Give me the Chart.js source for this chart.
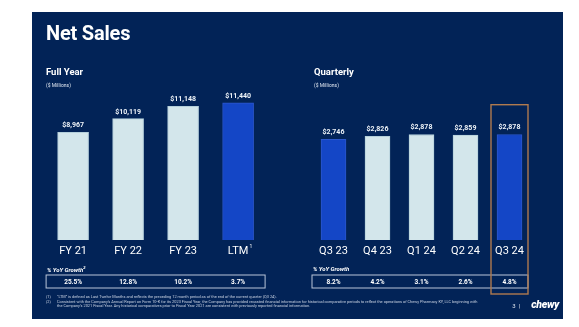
<!DOCTYPE html>
<html>
<head>
<meta charset="utf-8">
<script src="https://cdn.jsdelivr.net/npm/chart.js@4.4.0/dist/chart.umd.min.js"></script>
<style>
  html, body { margin: 0; padding: 0; background: #fff; }
  body { width: 579px; height: 327px; position: relative; overflow: hidden; font-family: Roboto, Arial, sans-serif; }
  #slide { position: absolute; left: 32px; top: 12px; width: 531px; height: 307px; background: #022357; overflow: hidden; }
  #slide canvas { position: absolute; left: 0; top: 0; }
  .t { position: absolute; color: #fff; white-space: nowrap; line-height: 1; }
  .title { left: 14px; top: 10.5px; font-size: 20px; font-weight: 700; letter-spacing: -0.2px; }
  .head { font-size: 9.5px; font-weight: 700; top: 55px; }
  .unit { font-size: 5px; top: 70.5px; color: #dfe6f0; }
  .yoy { font-size: 6px; font-weight: 700; font-style: italic; top: 253.5px; }
  .yoy sup { font-size: 4px; }
  .note { font-size: 3.9px; color: #c9d2e2; left: 14px; }
  .note b { display: inline-block; width: 11px; font-weight: 400; }
  .page { right: 43px; top: 291px; font-size: 6px; color: #dfe6f0; }
  .logo { right: 4px; top: 288px; font-size: 10.5px; font-weight: 900; font-style: italic; letter-spacing: -0.3px; }
</style>
</head>
<body>
<div id="slide">
  <canvas id="yearChart" width="531" height="307"></canvas>
  <canvas id="quarterChart" width="531" height="307"></canvas>

  <div class="t title">Net Sales</div>
  <div class="t head" style="left:14px">Full Year</div>
  <div class="t unit" style="left:14px">($ Millions)</div>
  <div class="t head" style="left:282px">Quarterly</div>
  <div class="t unit" style="left:282px">($ Millions)</div>
  <div class="t yoy" style="left:15px">% YoY Growth<sup>2</sup></div>
  <div class="t yoy" style="left:281px">% YoY Growth</div>

  <div class="t note" style="top:283px"><b>(1)</b>“LTM” is defined as Last Twelve Months and reflects the preceding 12 month period as of the end of the current quarter (Q3 24).</div>
  <div class="t note" style="top:287.5px"><b>(2)</b>Consistent with the Company’s Annual Report on Form 10-K for its 2023 Fiscal Year, the Company has provided recasted financial information for historical comparative periods to reflect the operations of Chewy Pharmacy KY, LLC beginning with</div>
  <div class="t note" style="top:291.5px"><b></b>the Company’s 2021 Fiscal Year. Any historical comparatives prior to Fiscal Year 2021 are consistent with previously reported financial information.</div>

  <div class="t page">3&nbsp;&nbsp;|</div>
  <div class="t logo">chewy</div>
</div>

<script>
// full year net sales ($M)
const yearLabels = ['FY 21', 'FY 22', 'FY 23', 'LTM'];
const yearMarks = ['', '', '', '1'];
const yearSales = [8967, 10119, 11148, 11440];
const yearGrowth = ['25.5%', '12.8%', '10.2%', '3.7%'];

// quarterly net sales ($M)
const quarterLabels = ['Q3 23', 'Q4 23', 'Q1 24', 'Q2 24', 'Q3 24'];
const quarterSales = [2746, 2826, 2878, 2859, 2878];
const quarterGrowth = ['8.2%', '4.2%', '3.1%', '2.6%', '4.8%'];

const LIGHT = '#d3e6eb';
const BLUE = '#1446c6';

// value labels, category names, the growth row and the highlight box
const decorations = {
  id: 'decorations',
  afterDatasetsDraw(chart, args, opts) {
    const ctx = chart.ctx;
    const area = chart.chartArea;
    const bars = chart.getDatasetMeta(0).data;
    const values = chart.data.datasets[0].data;
    const labels = chart.data.labels;
    ctx.save();
    ctx.textAlign = 'center';
    ctx.textBaseline = 'alphabetic';

    bars.forEach((bar, i) => {
      ctx.fillStyle = '#eef3f8';
      ctx.font = 'bold 7px Roboto';
      ctx.fillText('$' + values[i].toLocaleString('en-US'), bar.x, bar.y - 5);

      ctx.fillStyle = '#ffffff';
      ctx.font = '11px Roboto';
      ctx.fillText(labels[i], bar.x, opts.labelY);
      const mark = (opts.marks || [])[i];
      if (mark) {
        const w = ctx.measureText(labels[i]).width;
        ctx.font = '5px Roboto';
        ctx.textAlign = 'left';
        ctx.fillText(mark, bar.x + w / 2 + 1, opts.labelY - 6);
        ctx.textAlign = 'center';
      }

      ctx.font = 'bold 6.5px Roboto';
      ctx.fillText(opts.growth[i], bar.x, opts.rowTop + 9.3);
    });

    // growth row outline
    ctx.strokeStyle = '#b9c5d9';
    ctx.lineWidth = 1;
    ctx.strokeRect(area.left + 0.5, opts.rowTop + 0.5, area.right - area.left - opts.rowTrim, 13);

    if (opts.highlight >= 0) {
      const b = bars[opts.highlight];
      ctx.strokeStyle = '#b07a4f';
      ctx.lineWidth = 1.4;
      ctx.strokeRect(b.x - 18.5, opts.boxTop, 37, opts.boxBottom - opts.boxTop);
    }
    ctx.restore();
  }
};

function barChart(id, labels, values, colors, yMax, thickness, padding, extras) {
  return new Chart(document.getElementById(id), {
    type: 'bar',
    data: {
      labels: labels,
      datasets: [{
        data: values,
        backgroundColor: colors,
        borderColor: colors.map(c => c === LIGHT ? '#b4cfda' : '#2c57cc'),
        borderWidth: 1,
        barThickness: thickness
      }]
    },
    options: {
      responsive: false,
      animation: false,
      layout: { padding: padding },
      plugins: { legend: { display: false }, tooltip: { enabled: false }, decorations: extras },
      scales: {
        x: { display: false, offset: true },
        y: { display: false, min: 0, max: yMax }
      }
    },
    plugins: [decorations]
  });
}

barChart('yearChart', yearLabels, yearSales, [LIGHT, LIGHT, LIGHT, BLUE], 12000, 31,
  { left: 13.6, right: 297.4, top: 84, bottom: 79 },
  { growth: yearGrowth, marks: yearMarks, labelY: 241.5, rowTop: 262.5, rowTrim: 1, highlight: -1 });

barChart('quarterChart', quarterLabels, quarterSales, [BLUE, LIGHT, LIGHT, LIGHT, BLUE], 3000, 25,
  { left: 279.5, right: 31.5, top: 118, bottom: 79 },
  { growth: quarterGrowth, marks: [], labelY: 241.5, rowTop: 262.5, rowTrim: 4, highlight: 4, boxTop: 92.7, boxBottom: 282 });
</script>
</body>
</html>
